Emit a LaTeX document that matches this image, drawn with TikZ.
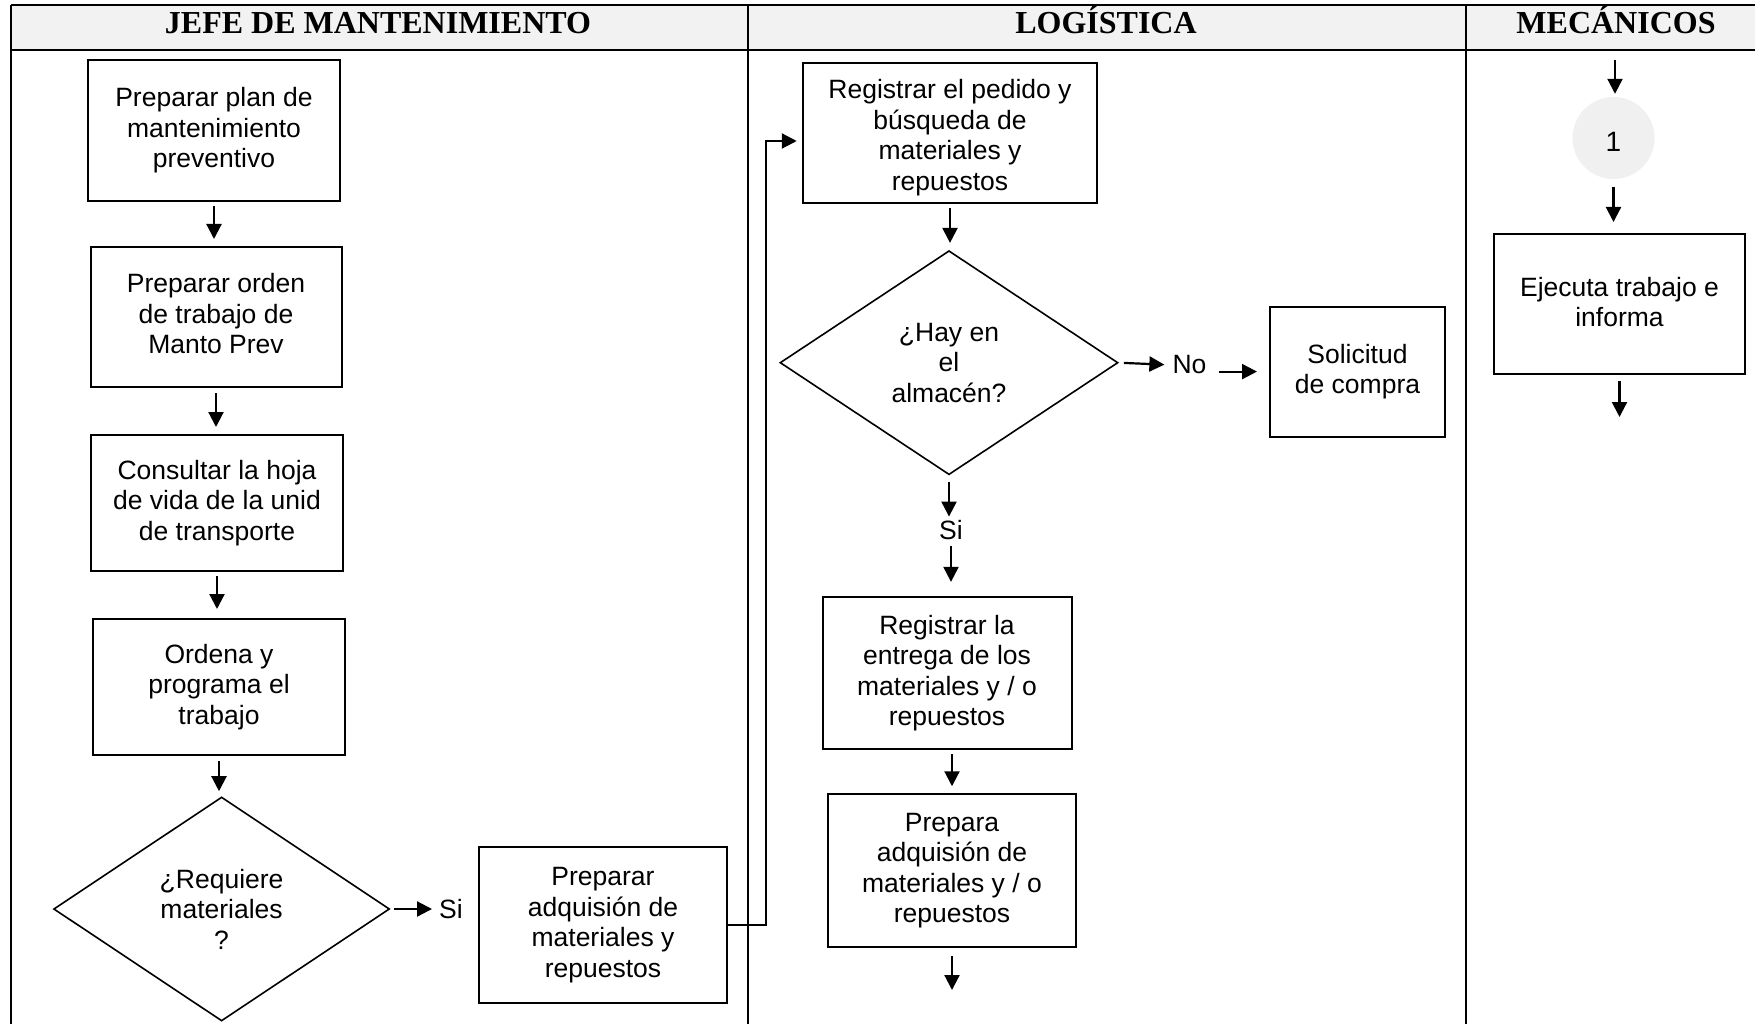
\documentclass[tikz,border=0pt]{standalone}
\usepackage{fontspec}
\setmainfont{Liberation Sans}
\newfontfamily\headfont{Liberation Serif}
\usetikzlibrary{arrows.meta,shapes.geometric,calc}
\definecolor{headfill}{RGB}{242,242,242}
\definecolor{circfill}{RGB}{240,240,240}
\begin{document}
\begin{tikzpicture}[x=1pt,y=-1pt,
  lane/.style={line width=2.6pt},
  box/.style={draw, line width=2pt, align=center, inner sep=0pt, fill=white,
    font=\fontsize{26.5}{30.5}\selectfont},
  dec/.style={draw, diamond, shape aspect=1.5, line width=1.6pt, align=center, inner sep=0pt,
    font=\fontsize{26.5}{30.5}\selectfont},
  lbl/.style={inner sep=0pt, font=\fontsize{26.5}{30.5}\selectfont},
  arr/.style={line width=2.2pt, -{Triangle[length=15pt,width=15pt]}},
  head/.style={inner sep=0pt, anchor=base, font=\headfont\bfseries\fontsize{32}{34}\selectfont}
]
\useasboundingbox[fill=white] (0,0) rectangle (1755,1024);

% table
\fill[headfill] (11,5) rectangle (1755,50);
\draw[lane] (11,5) -- (1755,5);
\draw[lane] (11,50) -- (1755,50);
\draw[lane] (11,5) -- (11,1024);
\draw[lane] (748,5) -- (748,1024);
\draw[lane] (1466,5) -- (1466,1024);

\node[head] (h1) at (378,34) {JEFE DE MANTENIMIENTO};
\node[head] (h2) at (1106,34) {LOGÍSTICA};
\node[head] (h3) at (1616,34) {MECÁNICOS};

% Jefe de mantenimiento
\node[box, minimum width=252pt, minimum height=140.7pt] (b1) at (214,130.3)
  {Preparar plan de\\mantenimiento\\preventivo};
\node[box, minimum width=251pt, minimum height=140pt] (b2) at (216,317)
  {Preparar orden\\de trabajo de\\Manto Prev\rule[-7pt]{0pt}{0pt}};
\node[box, minimum width=252pt, minimum height=136pt] (b3) at (217,503)
  {Consultar la hoja\\de vida de la unid\\de transporte};
\node[box, minimum width=252pt, minimum height=136pt] (b4) at (219,687)
  {Ordena y\\programa el\\trabajo};
\node[dec, minimum width=336pt, minimum height=224pt] (d1) at (221.6,909)
  {¿Requiere\\materiales\\?};
\node[lbl] (si1) at (451,909) {Si};
\node[box, minimum width=248.5pt, minimum height=156pt] (b6) at (603,925)
  {Preparar\\adquisión de\\materiales y\\repuestos};

\draw[arr, shorten <=4pt, shorten >=7pt] (b1.south) -- (b1.south |- b2.north);
\draw[arr, shorten <=5pt, shorten >=7pt] (b2.south) -- (b2.south |- b3.north);
\draw[arr, shorten <=4pt, shorten >=9pt] (b3.south) -- (b3.south |- b4.north);
\draw[arr, shorten <=5pt, shorten >=5pt] (b4.south) -- (b4.south |- d1.north);
\draw[arr, shorten <=4pt, shorten >=7pt] (d1.east) -- (si1.west);

% Logistica
\node[box, minimum width=294.5pt, minimum height=140pt] (b7) at (950,133)
  {\rule{0pt}{29pt}Registrar el pedido y\\búsqueda de\\materiales y\\repuestos};
\node[dec, minimum width=338pt, minimum height=224pt] (d2) at (949,362.7)
  {¿Hay en\\el\\almacén?};
\node[lbl] (no) at (1189.5,365) {No};
\node[box, minimum width=175pt, minimum height=130pt] (sc) at (1357.5,371.6)
  {Solicitud\\de compra};
\node[lbl] (si2) at (951,530.5) {Si};
\node[box, minimum width=249pt, minimum height=152.3pt] (b8) at (947,673)
  {Registrar la\\entrega de los\\materiales y / o\\repuestos};
\node[box, minimum width=248pt, minimum height=152.5pt] (b9) at (952,870.5)
  {Prepara\\adquisión de\\materiales y / o\\repuestos};
\coordinate (e9) at (954,990);

\draw[arr, shorten >=5pt] (b6.east) -- ++(38,0) |- ($(b7.west)+(0,8)$);
\draw[arr, shorten <=4pt, shorten >=7pt] (b7.south) -- (b7.south |- d2.north);
\draw[arr, shorten <=5pt, shorten >=8pt] (d2.east) -- (no.west);
\draw[arr, shorten <=12pt, shorten >=12pt] (no.east |- sc.west) -- (sc.west);
\draw[arr, shorten <=6pt, shorten >=4pt] (d2.south) -- (d2.south |- si2.north);
\draw[arr, shorten <=6pt, shorten >=14pt] (si2.south) -- (si2.south |- b8.north);
\draw[arr, shorten <=4pt, shorten >=7pt] (b9.north |- b8.south) -- (b9.north);
\draw[arr, shorten <=8pt] (b9.south) -- (b9.south |- e9);

% Mecanicos
\coordinate (m0) at (1615,60);
\node[circle, fill=circfill, minimum size=82pt, inner sep=0pt,
  font=\fontsize{28}{30.5}\selectfont] (c1) at (1613.5,138) {\rule{0pt}{28pt}1};
\node[box, minimum width=251pt, minimum height=140pt] (b10) at (1619.5,304)
  {Ejecuta trabajo e\\informa\rule[-4pt]{0pt}{0pt}};
\coordinate (e10) at (1619.5,417);

\draw[arr, shorten >=3pt] (m0) -- (m0 |- c1.north);
\draw[arr, shorten <=7.5pt, shorten >=11pt] (c1.south) -- (c1.south |- b10.north);
\draw[arr, shorten <=6pt] (b10.south) -- (b10.south |- e10);
\end{tikzpicture}
\end{document}
